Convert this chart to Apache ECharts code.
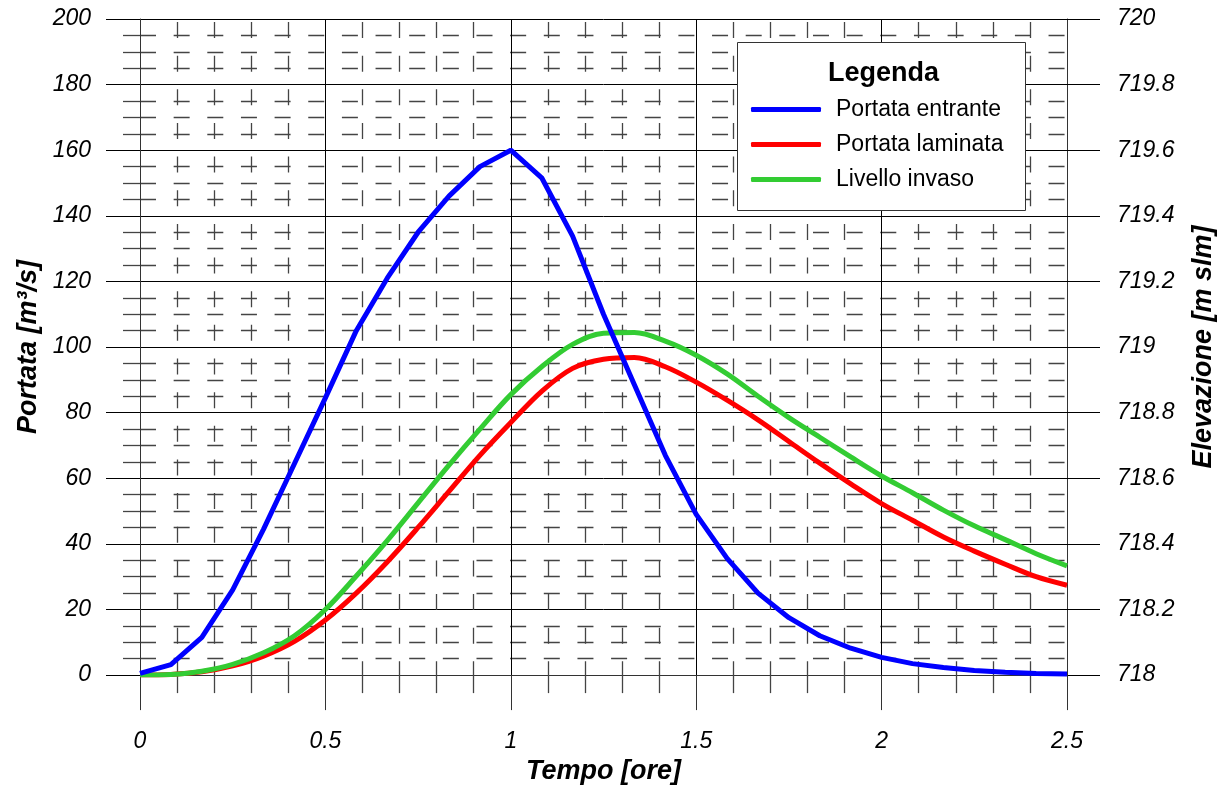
<!DOCTYPE html>
<html>
<head>
<meta charset="utf-8">
<script src="https://cdn.jsdelivr.net/npm/echarts@6/dist/echarts.min.js"></script>
<style>html,body{margin:0;padding:0;background:#fff}#c{width:1229px;height:790px}</style>
</head>
<body>
<div id="c"></div>
<script>
// Time [hours]
const tempo = [0, 0.0833, 0.1667, 0.25, 0.3333, 0.4167, 0.5, 0.5833, 0.6667, 0.75, 0.8333, 0.9167,
  1, 1.0833, 1.1667, 1.25, 1.3333, 1.4167, 1.5, 1.5833, 1.6667, 1.75, 1.8333, 1.9167,
  2, 2.0833, 2.1667, 2.25, 2.3333, 2.4167, 2.5];
// Portata entrante [m3/s]
const portataEntrante = [0.5, 3.2, 11.5, 26, 44.5, 64.5, 84.5, 105, 121, 135, 146, 155,
  160, 151.6, 133.8, 110, 88.5, 67, 49, 35.6, 25, 17.5, 12, 8.2,
  5.4, 3.5, 2.3, 1.4, 0.9, 0.5, 0.3];
// Portata laminata [m3/s]
const portataLaminata = [0, 0.2, 1.0, 2.8, 5.8, 10.3, 16.8, 25, 34.5, 45, 56, 67,
  77, 86.5, 93.5, 96.3, 96.8, 94.0, 89.3, 83.8, 77.8, 71.2, 64.6, 58.3,
  52.3, 47.2, 42.1, 37.8, 33.8, 30.0, 27.4];
// Livello invaso [m slm]
const livelloInvaso = [718.000, 718.002, 718.012, 718.033, 718.068, 718.120, 718.200, 718.302, 718.410, 718.525, 718.640, 718.750,
  718.855, 718.940, 719.008, 719.042, 719.044, 719.018, 718.975, 718.918, 718.850, 718.785, 718.725, 718.665,
  718.607, 718.556, 718.503, 718.455, 718.413, 718.370, 718.333];
const yTicksLeft = {min: 0, max: 200, interval: 20};
const yTicksRight = {min: 718, max: 720, interval: 0.2};
const xTicks = {min: 0, max: 2.5, interval: 0.5};

const FONT = "'Liberation Sans', Arial, sans-serif";
const pair = (xs, ys) => xs.map((x, i) => [x, ys[i]]);

const chart = echarts.init(document.getElementById('c'), null, {renderer: 'canvas'});
const minorDash = {color: '#444', width: 1.3, type: [16, 17.65]};

chart.setOption({
  animation: false,
  backgroundColor: '#fff',
  grid: {left: 140, right: 162, top: 19, bottom: 113, containLabel: false},
  xAxis: {
    type: 'value', min: xTicks.min, max: xTicks.max, interval: xTicks.interval,
    name: 'Tempo [ore]', nameLocation: 'middle', nameGap: 80,
    nameTextStyle: {fontFamily: FONT, fontSize: 27, fontWeight: 'bold', fontStyle: 'italic', color: '#000'},
    axisLine: {show: true, lineStyle: {color: '#333', width: 1}},
    axisTick: {show: true, length: 35, lineStyle: {color: '#333', width: 1}},
    minorTick: {show: true, splitNumber: 5, length: 18, lineStyle: {color: '#444', width: 1.3}},
    axisLabel: {fontFamily: FONT, fontSize: 23, fontStyle: 'italic', color: '#000', margin: 55},
    splitLine: {show: true, lineStyle: {color: '#000', width: 1}},
    minorSplitLine: {show: true, lineStyle: Object.assign({}, minorDash, {dashOffset: 30.65})}
  },
  yAxis: [{
    type: 'value', position: 'left', min: yTicksLeft.min, max: yTicksLeft.max, interval: yTicksLeft.interval,
    name: 'Portata [m³/s]', nameLocation: 'middle', nameGap: 98, nameRotate: 90,
    nameTextStyle: {fontFamily: FONT, fontSize: 27, fontWeight: 'bold', fontStyle: 'italic', color: '#000'},
    axisLine: {show: true, lineStyle: {color: '#333', width: 1}},
    axisTick: {show: true, length: 34, lineStyle: {color: '#000', width: 1}},
    minorTick: {show: true, splitNumber: 4, length: 17, lineStyle: {color: '#444', width: 1.3}},
    axisLabel: {fontFamily: FONT, fontSize: 23, fontStyle: 'italic', color: '#000', margin: 49},
    splitLine: {show: true, lineStyle: {color: '#000', width: 1}},
    minorSplitLine: {show: true, lineStyle: Object.assign({}, minorDash, {dashOffset: 0})}
  }, {
    type: 'value', position: 'right', min: yTicksRight.min, max: yTicksRight.max, interval: yTicksRight.interval,
    name: 'Elevazione [m slm]', nameLocation: 'middle', nameGap: 123, nameRotate: 90,
    nameTextStyle: {fontFamily: FONT, fontSize: 27, fontWeight: 'bold', fontStyle: 'italic', color: '#000'},
    axisLine: {show: true, lineStyle: {color: '#333', width: 1}},
    axisTick: {show: true, length: 33, lineStyle: {color: '#000', width: 1}},
    axisLabel: {fontFamily: FONT, fontSize: 23, fontStyle: 'italic', color: '#000', margin: 50},
    splitLine: {show: false}
  }],
  legend: {
    orient: 'vertical', left: 751, top: 97, padding: 0, itemGap: 10,
    itemWidth: 70, itemHeight: 5, icon: 'roundRect',
    data: ['Portata entrante', 'Portata laminata', 'Livello invaso'],
    textStyle: {fontFamily: FONT, fontSize: 23, color: '#000', lineHeight: 25, padding: [0, 0, 0, 10]},
    z: 20
  },
  graphic: [
    {type: 'rect', left: 737, top: 42, z: 15, shape: {width: 288, height: 168},
     style: {fill: '#fff', stroke: '#333', lineWidth: 1}},
    {type: 'text', left: 828, top: 60, z: 16,
     style: {text: 'Legenda', font: "bold 27px 'Liberation Sans', Arial, sans-serif", fill: '#000'}}
  ],
  series: [
    {name: 'Portata laminata', type: 'line', yAxisIndex: 0, data: pair(tempo, portataLaminata),
     smooth: 0.35, showSymbol: false, lineStyle: {color: '#ff0000', width: 5}, itemStyle: {color: '#ff0000'}, z: 2},
    {name: 'Livello invaso', type: 'line', yAxisIndex: 1, data: pair(tempo, livelloInvaso),
     smooth: 0.35, showSymbol: false, lineStyle: {color: '#33cc33', width: 5}, itemStyle: {color: '#33cc33'}, z: 3},
    {name: 'Portata entrante', type: 'line', yAxisIndex: 0, data: pair(tempo, portataEntrante),
     showSymbol: false, lineStyle: {color: '#0000ff', width: 5}, itemStyle: {color: '#0000ff'}, z: 4}
  ]
});
</script>
</body>
</html>
